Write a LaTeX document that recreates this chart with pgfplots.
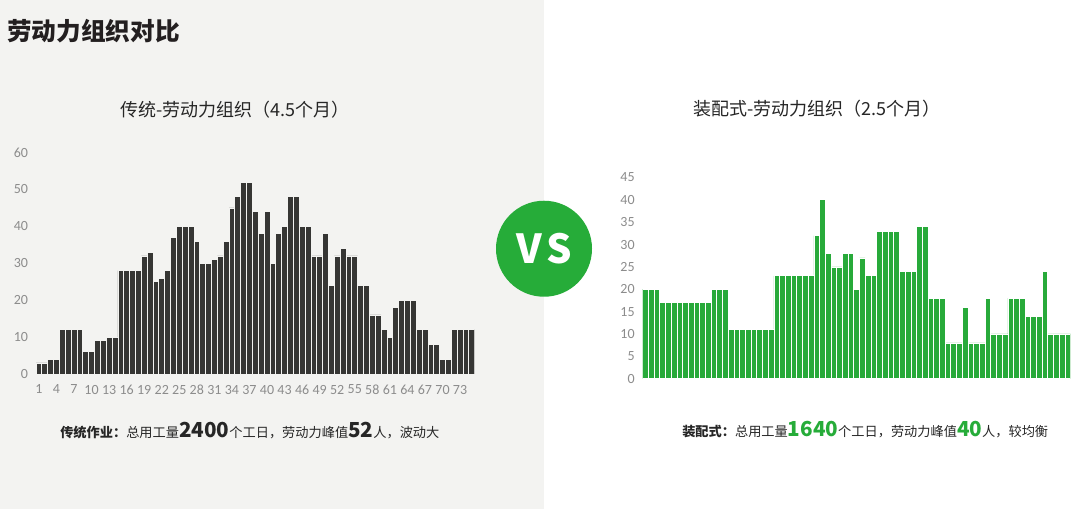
\documentclass[border=0pt]{standalone}
\usepackage{fontspec}
\setmainfont{Noto Sans CJK SC}
\newfontfamily\tickfont{Carlito}
\usepackage{pgfplots}
\pgfplotsset{compat=1.18}
\definecolor{panel}{RGB}{243,243,241}
\definecolor{darkbar}{RGB}{54,54,52}
\definecolor{vsgreen}{RGB}{38,172,57}
\definecolor{bargreen}{RGB}{40,170,58}
\definecolor{tickgray}{RGB}{140,140,140}
\definecolor{txt}{RGB}{38,38,38}
\definecolor{ttl}{RGB}{35,31,32}

\pgfplotstableread{
x y
1 3
2 3
3 4
4 4
5 12
6 12
7 12
8 12
9 6
10 6
11 9
12 9
13 10
14 10
15 28
16 28
17 28
18 28
19 32
20 33
21 25
22 26
23 28
24 37
25 40
26 40
27 40
28 36
29 30
30 30
31 31
32 32
33 36
34 45
35 48
36 52
37 52
38 44
39 38
40 44
41 30
42 38
43 40
44 48
45 48
46 40
47 40
48 32
49 32
50 38
51 24
52 32
53 34
54 32
55 32
56 24
57 24
58 16
59 16
60 12
61 10
62 18
63 20
64 20
65 20
66 12
67 12
68 8
69 8
70 4
71 4
72 12
73 12
74 12
75 12
}\tradtable

\pgfplotstableread{
x y
1 20
2 20
3 20
4 17
5 17
6 17
7 17
8 17
9 17
10 17
11 17
12 17
13 20
14 20
15 20
16 11
17 11
18 11
19 11
20 11
21 11
22 11
23 11
24 23
25 23
26 23
27 23
28 23
29 23
30 23
31 32
32 40
33 28
34 25
35 25
36 28
37 28
38 20
39 27
40 23
41 23
42 33
43 33
44 33
45 33
46 24
47 24
48 24
49 34
50 34
51 18
52 18
53 18
54 8
55 8
56 8
57 16
58 8
59 8
60 8
61 18
62 10
63 10
64 10
65 18
66 18
67 18
68 14
69 14
70 14
71 24
72 10
73 10
74 10
75 10
}\prefabtable

\begin{document}
\begin{tikzpicture}
\fill[white] (0,0) rectangle (810pt,381.75pt);
\fill[panel] (0,0) rectangle (408pt,381.75pt);

\pgfplotsset{
  chartstyle/.style={
    scale only axis,
    anchor=south west,
    xmin=0.5, xmax=75.5, ymin=0,
    axis lines=left,
    axis line style={draw=none,-},
    major tick length=0pt,
    tick label style={font=\tickfont\fontsize{10.5}{11}\selectfont, text=tickgray, inner sep=0pt},
    /pgf/number format/assume math mode=true,
    xticklabel shift=8pt,
    yticklabel shift=5.8pt,
  }
}

\begin{axis}[chartstyle,
  at={(27pt,101.25pt)}, width=329pt, height=166.1pt,
  ymax=60, ytick={0,10,...,60}, xtick={1,4,...,73}]
\addplot[ybar, bar width=1, fill=darkbar, draw=panel, line width=0.55pt] table[x=x,y=y] {\tradtable};
\end{axis}

\begin{axis}[chartstyle,
  at={(482pt,97.7pt)}, width=321pt, height=151pt,
  ymax=45, ytick={0,5,...,45}, xtick=\empty]
\addplot[ybar, bar width=1, fill=bargreen, draw=white, line width=0.55pt] table[x=x,y=y] {\prefabtable};
\end{axis}

% main title
\node[anchor=west, inner sep=0pt, text=ttl, font=\fontsize{18.5}{20}\selectfont\bfseries] at (5.25pt,358.5pt) {劳动力组织对比};
% chart titles
\node[inner sep=0pt, text=txt, font=\fontsize{13.5}{15}\selectfont] at (176.25pt,299.25pt) {传统-劳动力组织（4.5个月）};
\node[inner sep=0pt, text=txt, font=\fontsize{13.5}{15}\selectfont] at (612.75pt,300pt) {装配式-劳动力组织（2.5个月）};

% VS circle
\fill[vsgreen] (408pt,195.2pt) circle (36pt);
\node[text=white, inner sep=0pt, font=\fontsize{30}{30}\selectfont\bfseries] at (408pt,195.2pt) {V\kern3pt S};

% bottom texts
\node[anchor=base west, inner sep=0pt, text=txt, font=\fontsize{9.9}{12}\selectfont] at (45pt,53.25pt)
  {{\bfseries 传统作业：}总用工量{\fontsize{15.5}{15}\selectfont\bfseries 2400}个工日，劳动力峰值{\fontsize{15.5}{15}\selectfont\bfseries 52}人，波动大};
\node[anchor=base west, inner sep=0pt, text=txt, font=\fontsize{9.9}{12}\selectfont] at (511.5pt,54pt)
  {{\bfseries 装配式：}总用工量{\fontsize{15.5}{15}\selectfont\bfseries\color{vsgreen}1640}个工日，劳动力峰值{\fontsize{15.5}{15}\selectfont\bfseries\color{vsgreen}40}人，较均衡};

\pgfresetboundingbox
\path (0,0) rectangle (810pt,381.75pt);
\end{tikzpicture}
\end{document}
